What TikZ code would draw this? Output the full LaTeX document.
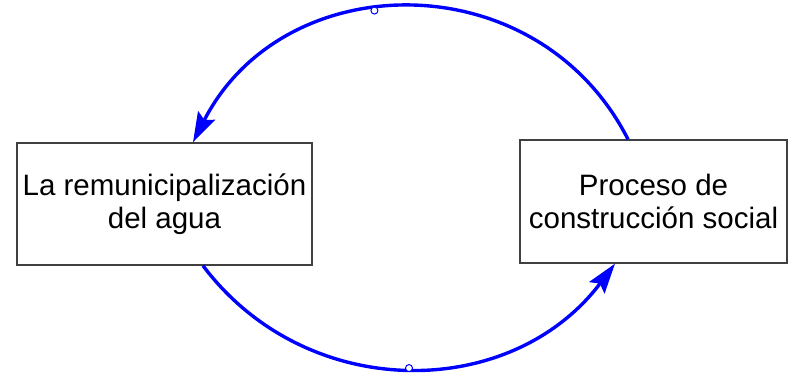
\documentclass[tikz,border=0pt]{standalone}
\usepackage{fontspec}
\setmainfont{Liberation Sans}
\usetikzlibrary{arrows.meta}
\definecolor{loopblue}{RGB}{0,0,255}
\definecolor{boxgray}{RGB}{64,64,64}
\begin{document}
\begin{tikzpicture}[x=1pt,y=1pt,
  box/.style={draw=boxgray, line width=1.4pt, align=center, font=\fontsize{29.5}{33}\selectfont},
  link/.style={draw=loopblue, line width=3.4pt, -{Stealth[length=30pt,width=19pt,inset=5pt]}},
  knot/.style={circle, draw=loopblue, fill=white, line width=1pt, inner sep=0pt, minimum size=7pt}]
\useasboundingbox (0,0) rectangle (792,372);
\node[box, minimum width=295pt, minimum height=122pt] (agua) at (164.5,168) {La remunicipalización\\del agua};
\node[box, minimum width=267pt, minimum height=123pt] (social) at (653.5,170.5) {Proceso de\\construcción social};
\path[link] ([xshift=-25.5pt]social.north) to[out=117, in=63, looseness=1.17] node[knot, pos=0.57] (k1) {} ([xshift=28.5pt]agua.north);
\path[link] ([xshift=38.5pt]agua.south) to[out=-53, in=233, looseness=1.07] node[knot, pos=0.5] (k2) {} ([xshift=-38.5pt]social.south);
\end{tikzpicture}
\end{document}
